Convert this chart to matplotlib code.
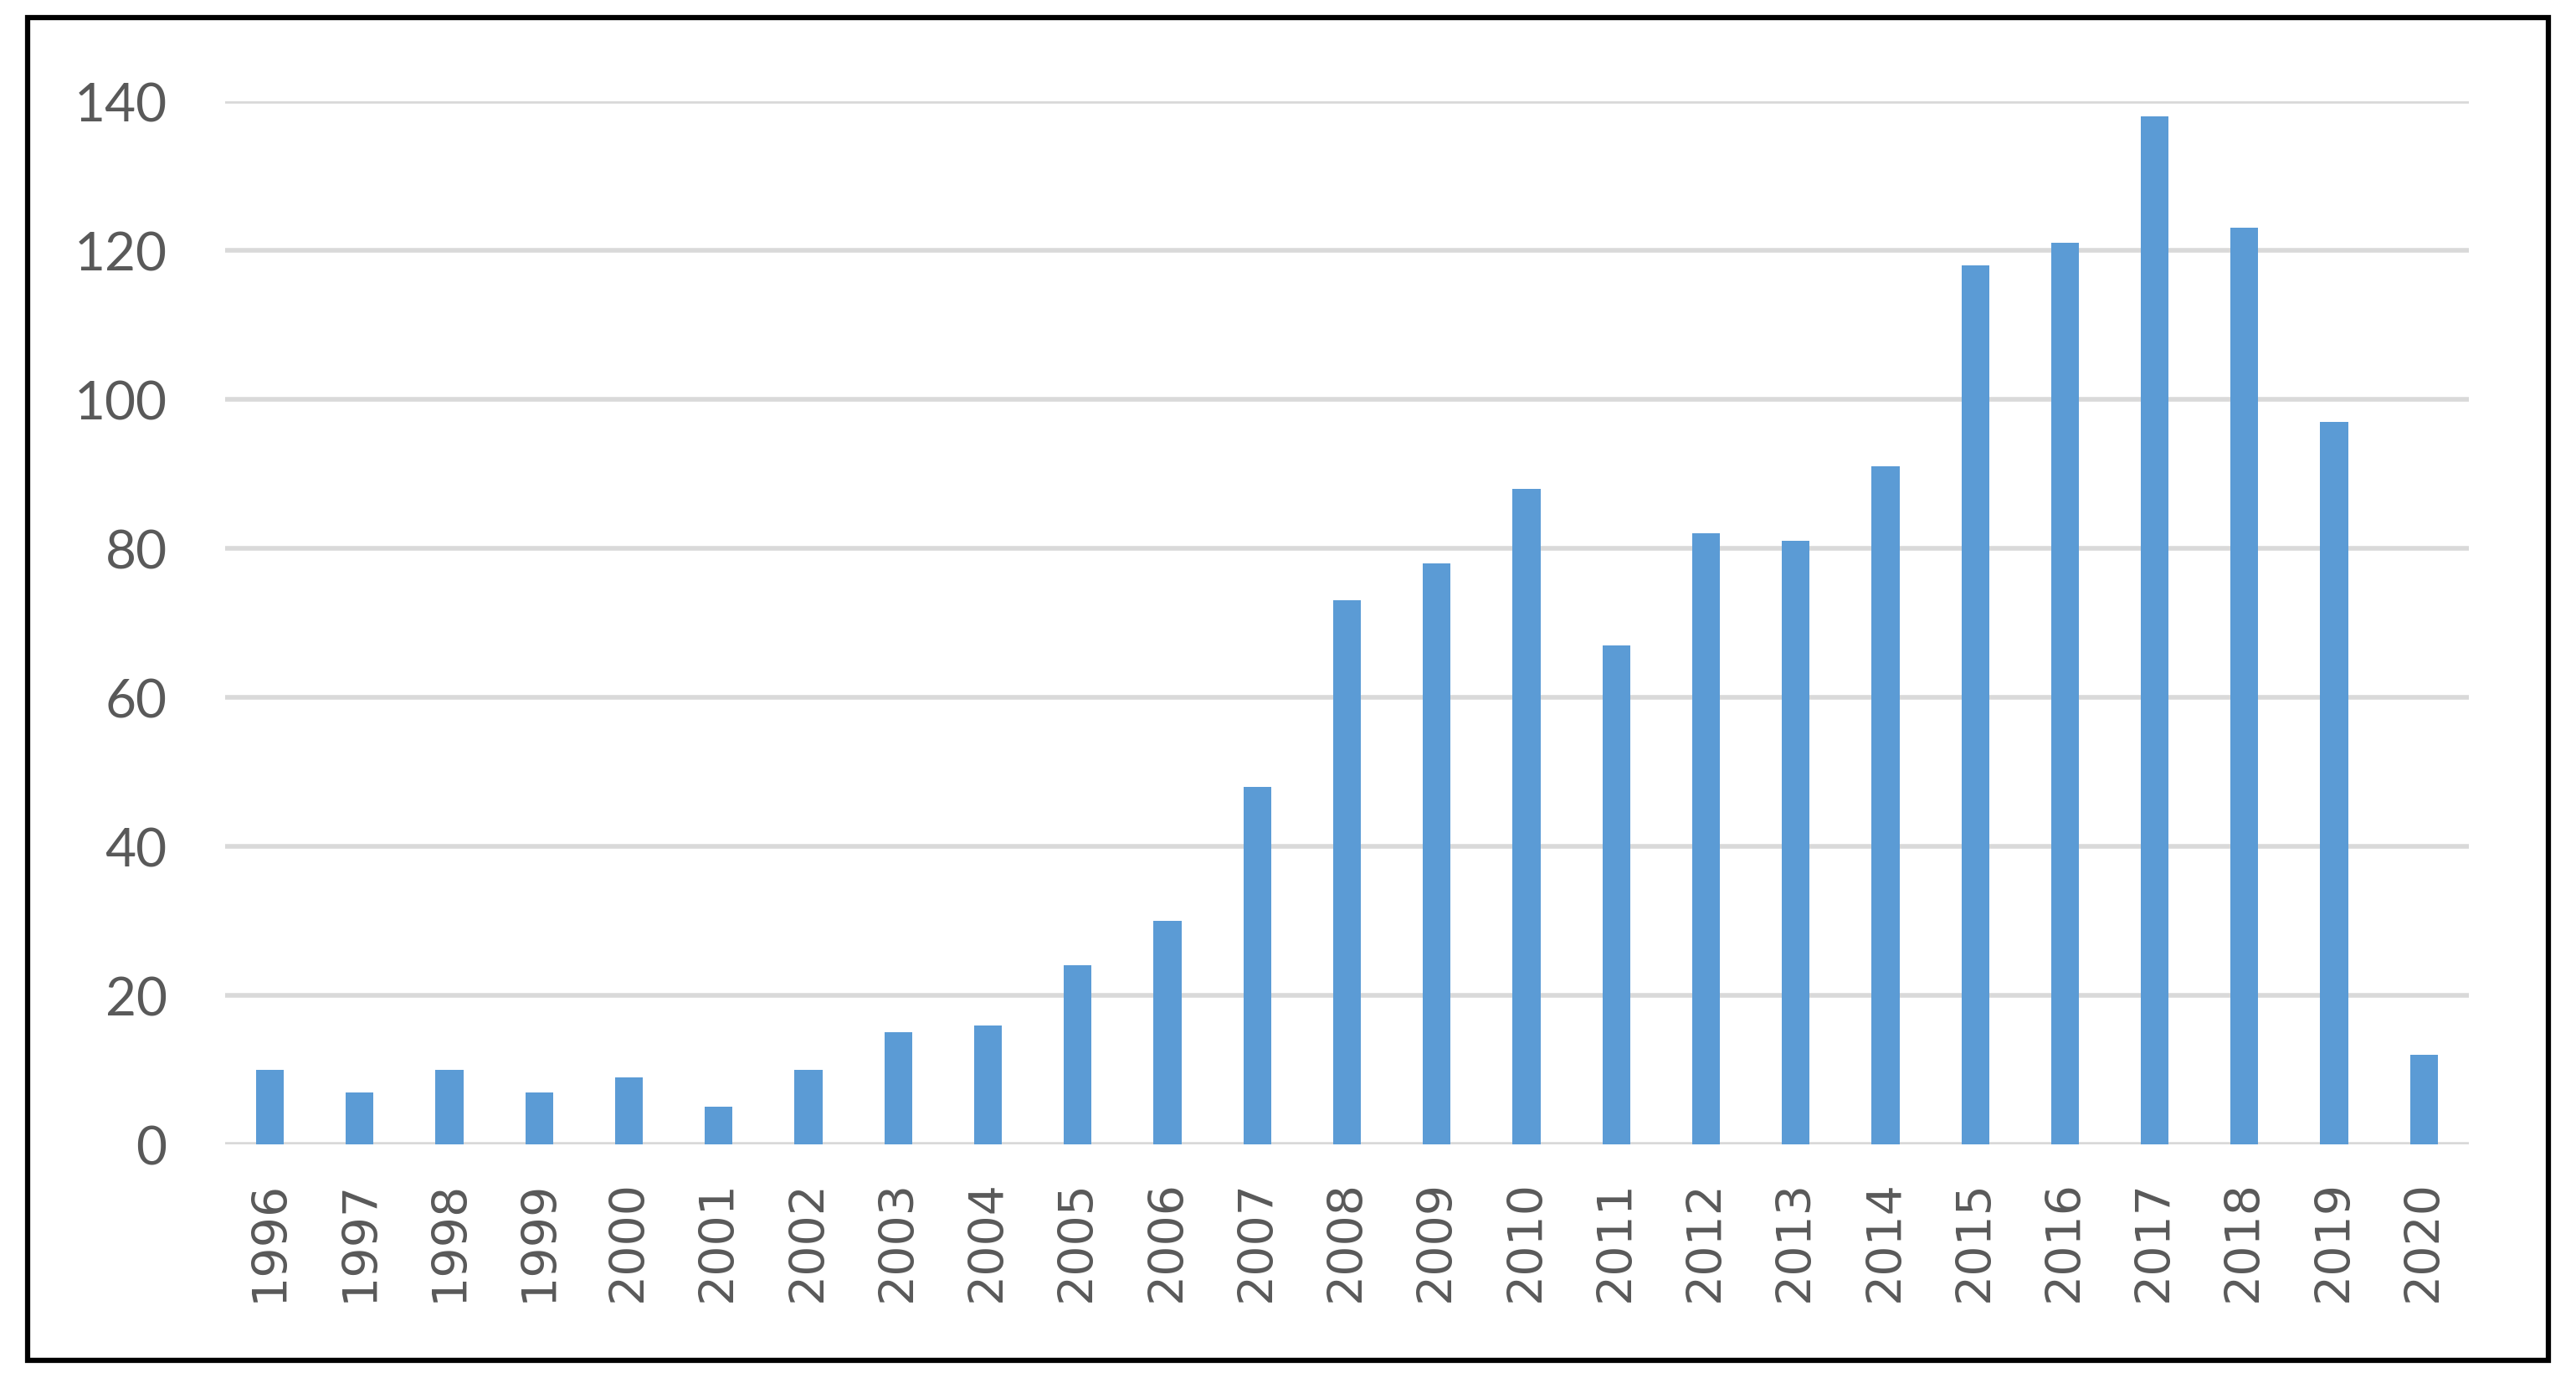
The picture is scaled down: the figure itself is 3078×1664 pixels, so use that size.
import numpy as np
import matplotlib
matplotlib.use('Agg')
import matplotlib.pyplot as plt
from matplotlib.patches import Rectangle

years = ['1996', '1997', '1998', '1999', '2000', '2001', '2002', '2003', '2004',
         '2005', '2006', '2007', '2008', '2009', '2010', '2011', '2012', '2013',
         '2014', '2015', '2016', '2017', '2018', '2019', '2020']
counts = [10, 7, 10, 7, 9, 5, 10, 15, 16, 24, 30, 48, 73, 78, 88, 67, 82, 81,
          91, 118, 121, 138, 123, 97, 12]
yticks = [0, 20, 40, 60, 80, 100, 120, 140]

plt.rcParams['font.family'] = ['Lato', 'DejaVu Sans']

fig = plt.figure(figsize=(30.78, 16.65), dpi=100)
ax = fig.add_axes([0.0874, 0.1784, 0.871, 0.7483])

x = np.arange(len(years))
ax.bar(x, counts, width=0.31, color='#5B9BD5', zorder=3)

ax.set_xlim(-0.5, len(years) - 0.5)
ax.set_ylim(0, 140)
ax.set_yticks(yticks)
ax.set_yticklabels([str(v) for v in yticks], fontsize=46)
ax.set_xticks(x)
ax.set_xticklabels(years, rotation=90, fontsize=41, family='DejaVu Sans')
ax.tick_params(axis='both', length=0, labelcolor='#595959')
ax.tick_params(axis='y', pad=50)
ax.tick_params(axis='x', pad=30)

ax.yaxis.grid(True, color='#D9D9D9', linewidth=4, zorder=0)
for s in ax.spines.values():
    s.set_visible(False)

# outer frame round the whole chart
fig.patches.append(Rectangle((0.0107, 0.0235), 0.9786, 0.9633, transform=fig.transFigure,
                             fill=False, edgecolor='black', linewidth=4.5))

fig.savefig('out.png', dpi=100, facecolor='white')
